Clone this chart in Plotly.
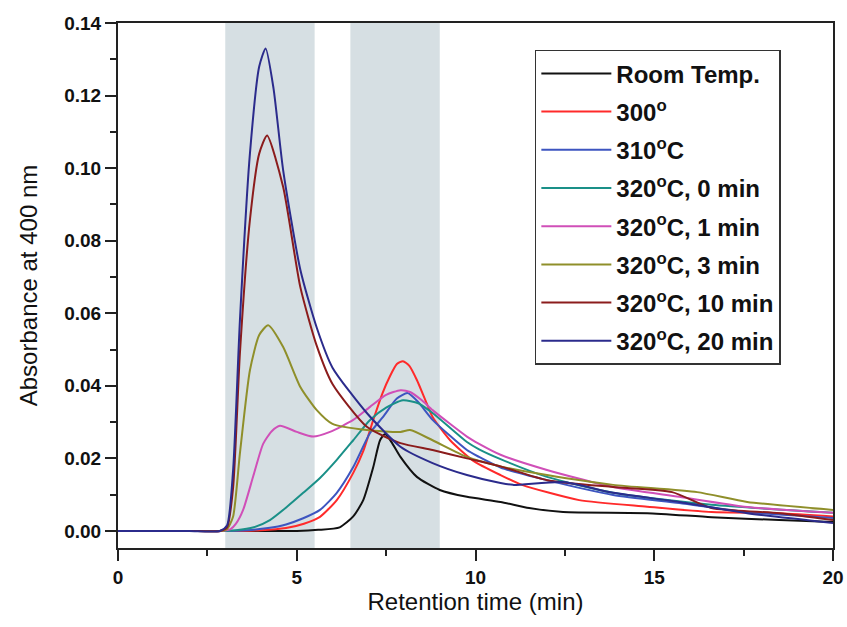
import plotly.graph_objects as go

# ---- data (retention time in min, absorbance at 400 nm) ----
names = ["Room Temp.", "300<sup>o</sup>", "310<sup>o</sup>C", "320<sup>o</sup>C, 0 min",
         "320<sup>o</sup>C, 1 min", "320<sup>o</sup>C, 3 min", "320<sup>o</sup>C, 10 min",
         "320<sup>o</sup>C, 20 min"]
colors = ["#111111", "#ff2a2a", "#3d55c0", "#1a9088", "#d04fb8", "#8f8f2a", "#8b1c1c", "#2b2b8c"]

t_room = [0, 1, 2, 3, 4, 5.0, 5.6, 6.2, 6.58, 6.86, 7.14, 7.33, 7.47, 7.65, 7.9, 8.36, 9.0, 9.76, 10.7, 11.5, 12.45, 14.8, 16.6, 18.5, 20]
a_room = [0, 0, 0, 0, 0, 0, 0.0003, 0.001, 0.004, 0.0085, 0.0176, 0.025, 0.0267, 0.0245, 0.0204, 0.0149, 0.0113, 0.0094, 0.008, 0.0063, 0.0052, 0.0049, 0.0038, 0.003, 0.0025]

t_300 = [0, 1, 2, 3, 4.0, 4.7, 5.2, 5.65, 6.12, 6.58, 6.86, 7.14, 7.4, 7.6, 7.8, 7.97, 8.15, 8.36, 8.6, 8.8, 9.29, 9.93, 10.7, 11.3, 12.9, 14.8, 16.6, 18.5, 20]
a_300 = [0, 0, 0, 0, 0.0002, 0.0008, 0.002, 0.0039, 0.0085, 0.016, 0.022, 0.0306, 0.038, 0.0425, 0.046, 0.0468, 0.0455, 0.0416, 0.036, 0.0314, 0.025, 0.0194, 0.0154, 0.0127, 0.0085, 0.0067, 0.0052, 0.0049, 0.004]

t_310 = [0, 1, 2, 3, 3.6, 4.2, 4.7, 5.18, 5.65, 6.12, 6.58, 7.05, 7.42, 7.8, 8.1, 8.4, 8.8, 9.76, 10.1, 10.7, 12.0, 13.85, 15.7, 17.6, 20]
a_310 = [0, 0, 0, 0, 0.0002, 0.0008, 0.0018, 0.0035, 0.0058, 0.0105, 0.0176, 0.027, 0.0315, 0.0365, 0.038, 0.0355, 0.0306, 0.0223, 0.0204, 0.0175, 0.014, 0.0099, 0.0077, 0.0052, 0.0036]

t_0 = [0, 1, 2, 2.8, 3.3, 3.8, 4.25, 4.72, 5.18, 5.65, 6.12, 6.58, 7.05, 7.5, 7.97, 8.4, 8.8, 9.76, 10.1, 10.7, 12.0, 13.85, 16.6, 20]
a_0 = [0, 0, 0, 0, 0.0002, 0.001, 0.003, 0.0066, 0.0105, 0.0146, 0.0196, 0.025, 0.0306, 0.034, 0.036, 0.0352, 0.0325, 0.0245, 0.0225, 0.0198, 0.0149, 0.0105, 0.0072, 0.005]

t_1 = [0, 1, 2, 2.9, 3.15, 3.3, 3.5, 3.78, 4.06, 4.3, 4.53, 5.0, 5.46, 5.93, 6.58, 7.05, 7.5, 7.9, 8.17, 8.5, 8.8, 9.76, 10.1, 10.7, 12.0, 13.85, 15.7, 17.6, 20]
a_1 = [0, 0, 0, 0, 0.0005, 0.002, 0.0058, 0.015, 0.024, 0.0275, 0.029, 0.0273, 0.026, 0.0273, 0.0306, 0.0342, 0.0375, 0.0388, 0.0383, 0.036, 0.0333, 0.026, 0.024, 0.021, 0.0168, 0.0121, 0.0094, 0.0066, 0.005]

t_3 = [0, 1, 2, 2.85, 3.05, 3.22, 3.41, 3.69, 3.95, 4.2, 4.62, 5.1, 5.56, 6.0, 6.96, 7.9, 8.17, 8.8, 9.76, 10.7, 12.0, 13.85, 16.2, 17.6, 20]
a_3 = [0, 0, 0, 0, 0.0005, 0.004, 0.0214, 0.0443, 0.054, 0.0567, 0.0507, 0.0397, 0.0333, 0.0295, 0.0278, 0.0273, 0.0278, 0.025, 0.0204, 0.0178, 0.0154, 0.0127, 0.0107, 0.008, 0.0058]

t_10 = [0, 1, 2, 2.85, 3.05, 3.22, 3.41, 3.69, 3.95, 4.17, 4.62, 5.1, 5.56, 6.0, 6.96, 7.9, 8.8, 9.76, 10.7, 12.0, 13.85, 15.5, 16.6, 18.5, 20]
a_10 = [0, 0, 0, 0, 0.001, 0.012, 0.049, 0.0857, 0.104, 0.109, 0.0948, 0.0672, 0.051, 0.0405, 0.0287, 0.0242, 0.0223, 0.02, 0.0178, 0.014, 0.0121, 0.0107, 0.0063, 0.0049, 0.003]

t_20 = [0, 1, 2, 2.85, 3.05, 3.22, 3.41, 3.69, 3.95, 4.13, 4.35, 4.62, 5.1, 5.56, 6.0, 6.96, 7.9, 8.8, 9.76, 10.7, 11.05, 12.45, 13.85, 15.7, 17.6, 20]
a_20 = [0, 0, 0, 0, 0.0015, 0.0168, 0.058, 0.104, 0.128, 0.133, 0.122, 0.0994, 0.072, 0.056, 0.045, 0.0325, 0.0232, 0.0187, 0.0154, 0.0132, 0.0127, 0.0135, 0.0105, 0.008, 0.0049, 0.0022]

series_t = [t_room, t_300, t_310, t_0, t_1, t_3, t_10, t_20]
series_a = [a_room, a_300, a_310, a_0, a_1, a_3, a_10, a_20]

shaded = [(3.0, 5.5), (6.5, 9.0)]

FONT = "Liberation Sans, Arial, sans-serif"

fig = go.Figure()
for i, (name, col, tt, aa) in enumerate(zip(names, colors, series_t, series_a)):
    fig.add_trace(go.Scatter(x=tt, y=aa, mode="lines", name=name,
                             legendgroup=f"g{i}",
                             line=dict(color=col, width=2, shape="spline", smoothing=0.6)))

for x0, x1 in shaded:
    fig.add_vrect(x0=x0, x1=x1, fillcolor="#d6dfe3", opacity=1, line_width=0, layer="below")

fig.update_layout(
    width=847, height=627,
    margin=dict(l=118, r=14, t=23, b=79),
    plot_bgcolor="white", paper_bgcolor="white",
    font=dict(family=FONT, color="#111111"),
    showlegend=True,
    legend=dict(x=0.583, y=0.949, xanchor="left", yanchor="top",
                bgcolor="white", bordercolor="#333333", borderwidth=1.5,
                font=dict(size=24, weight="bold", family=FONT, color="#111111"),
                itemwidth=70, tracegroupgap=4),
    xaxis=dict(range=[0, 20], dtick=5, tick0=0, showgrid=False, zeroline=False, automargin=False,
               showline=True, linewidth=2, linecolor="#222222", mirror=True,
               ticks="outside", ticklen=11, tickwidth=2, tickcolor="#222222",
               tickfont=dict(size=19, weight="bold", family=FONT),
               minor=dict(dtick=2.5, ticks="outside", ticklen=6, tickwidth=2, tickcolor="#222222"),
               title=dict(text="Retention time (min)", font=dict(size=24, family=FONT), standoff=4)),
    yaxis=dict(range=[-0.0047, 0.14], dtick=0.02, tick0=0, tickformat=".2f",
               showgrid=False, zeroline=False, automargin=False,
               showline=True, linewidth=2, linecolor="#222222", mirror=True,
               ticks="outside", ticklen=11, tickwidth=2, tickcolor="#222222",
               tickfont=dict(size=19, weight="bold", family=FONT),
               minor=dict(dtick=0.01, ticks="outside", ticklen=6, tickwidth=2, tickcolor="#222222"),
               title=dict(text="Absorbance at 400 nm", font=dict(size=24, family=FONT), standoff=20)),
)

fig.write_html("out.html")
